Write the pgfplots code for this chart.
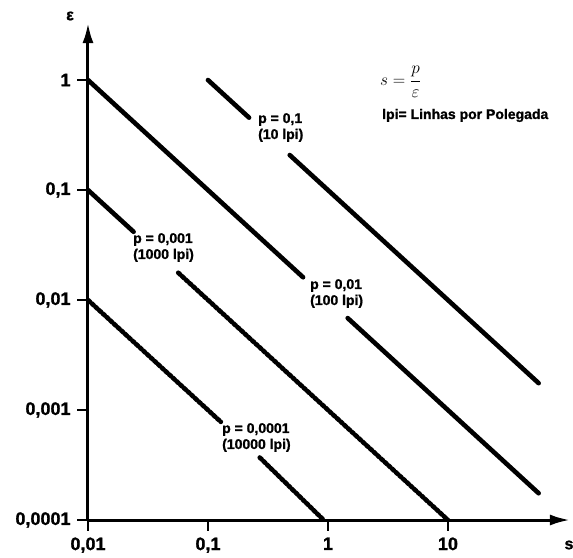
\documentclass[border=0pt]{standalone}
\usepackage{pgfplots}
\pgfplotsset{compat=1.18}
\usetikzlibrary{arrows.meta}
\usepackage{fontspec}
\setmainfont{Liberation Sans}[BoldFeatures={FakeBold=1.2}]
\begin{document}
\begin{tikzpicture}
\useasboundingbox (-88pt,-37pt) rectangle (485pt,520pt);
\begin{axis}[
  at={(0pt,0pt)}, anchor=south west,
  scale only axis, width=482pt, height=497pt,
  xmode=log, ymode=log,
  xmin=0.01, xmax=104, ymin=1e-4, ymax=3.3,
  axis lines=left,
  separate axis lines,
  every outer x axis line/.append style={line width=3pt, black, -{Latex[length=20pt,width=11pt]}},
  every outer y axis line/.append style={line width=3pt, black, -{Latex[length=20pt,width=11pt]}},
  xtick={0.01,0.1,1,10}, xticklabels={{0,01},{0,1},{1},{10}},
  ytick={1e-4,1e-3,1e-2,1e-1,1}, yticklabels={{0,0001},{0,001},{0,01},{0,1},{1}},
  xminorticks=false, yminorticks=false,
  tick align=outside, major tick length=11pt,
  every tick/.style={line width=2pt, black},
  major tick style={line width=2pt, black},
  ticklabel style={font=\fontsize{18}{18}\selectfont\bfseries},
  xticklabel style={yshift=-3pt},
  yticklabel style={xshift=-3pt},
  every axis plot post/.append style={line width=4.6pt, black, line cap=round, mark=none},
]
% p = 0.1
\addplot coordinates {(0.1,1) (0.22,0.455)};
\addplot coordinates {(0.48,0.208) (57,0.001754)};
% p = 0.01
\addplot coordinates {(0.01,1) (0.62,0.0161)};
\addplot coordinates {(1.46,0.00685) (57,0.000175)};
% p = 0.001
\addplot coordinates {(0.01,0.1) (0.024,0.0417)};
\addplot coordinates {(0.0565,0.0177) (10,0.0001)};
% p = 0.0001
\addplot coordinates {(0.01,0.01) (0.128,0.00078)};
\addplot coordinates {(0.27,0.00037) (0.92,0.0001)};
\end{axis}
\begin{scope}[every node/.style={inner sep=0pt, font=\fontsize{14}{16}\selectfont\bfseries, align=left}]
\node[anchor=north west] at (170pt,407pt) {p = 0,1\\(10 lpi)};
\node[anchor=north west] at (222pt,241pt) {p = 0,01\\(100 lpi)};
\node[anchor=north west] at (45pt,287pt) {p = 0,001\\(1000 lpi)};
\node[anchor=north west] at (134pt,97pt) {p = 0,0001\\(10000 lpi)};
\node[anchor=base west] at (294pt,401pt) {lpi= Linhas por Polegada};
\node[anchor=west, font=\fontsize{18}{18}\selectfont] at (292pt,438pt) {$\displaystyle s=\frac{p}{\varepsilon}$};
\node[font=\fontsize{16}{16}\selectfont\bfseries] at (-18pt,504pt) {ε};
\node[font=\fontsize{16}{16}\selectfont\bfseries] at (481pt,-25pt) {s};
\end{scope}
\end{tikzpicture}
\end{document}
